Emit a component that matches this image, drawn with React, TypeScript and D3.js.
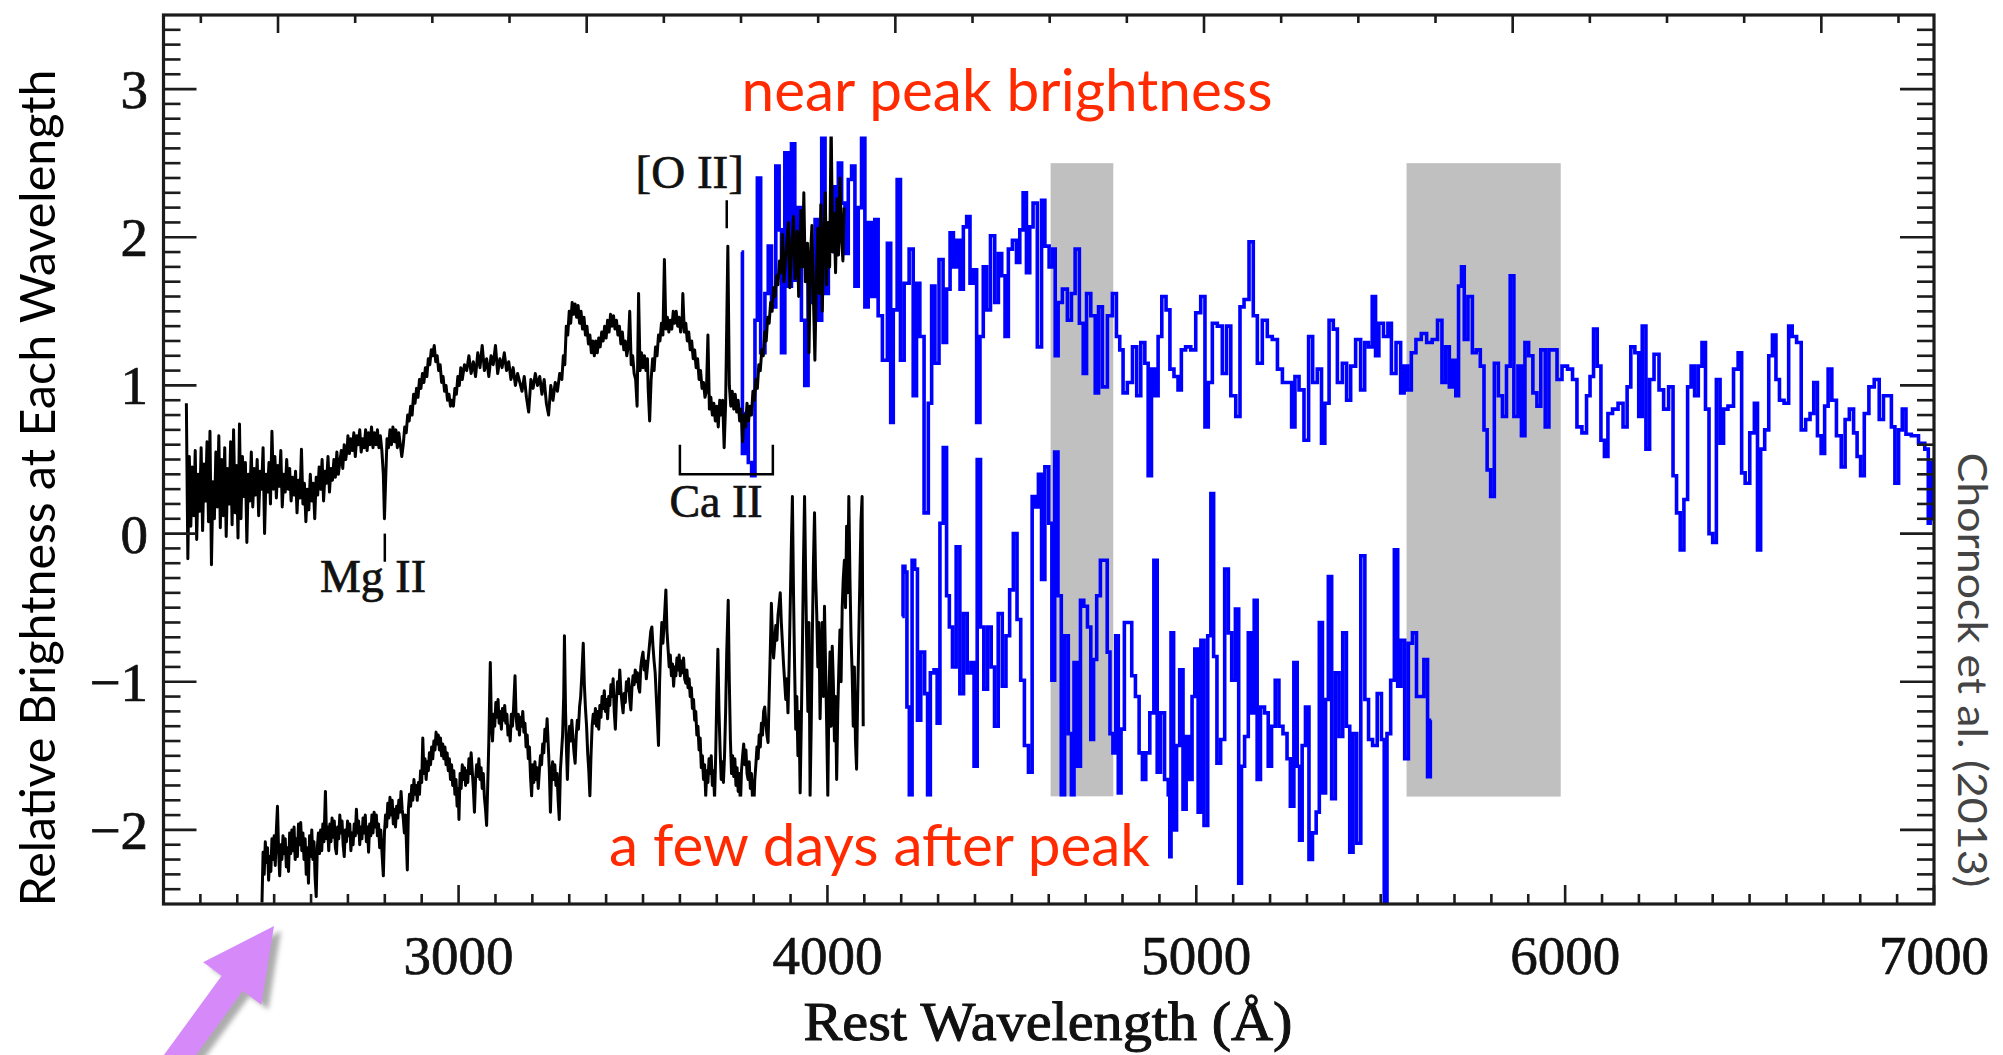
import React from "react";
import * as d3 from "d3";

// ---- axes ----
const X_DOMAIN = [2200, 7000];
const Y_DOMAIN = [-2.5, 3.5];
const X_MAJOR = [3000, 4000, 5000, 6000, 7000];
const Y_MAJOR = [-2, -1, 0, 1, 2, 3];
const Z_PLUS_ONE = 2.39; // observed / rest wavelength for the top axis
const OBS_MAJOR = [6000, 8000, 10000, 12000, 14000, 16000];

// ---- shaded telluric regions (rest Å) and their flux extent ----
const BANDS = [
  [4605, 4775],
  [5570, 5988],
];
const BAND_FLUX = [-1.775, 2.5];

// ---- line markers ----
const MG_II = 2800;
const O_II = 3727;
const CA_II = [3600, 3852];

// ---- spectrum near peak: UV (black) ----
const peakUV = [
  [2262, 0.88], [2266, -0.17], [2270, 0.52], [2274, 0.05], [2278, 0.45], [2282, 0.12], [2286, 0.56], [2290, -0.04],
  [2294, 0.4], [2298, 0.15], [2302, 0.58], [2306, 0.02], [2310, 0.47], [2314, 0.22], [2318, 0.62], [2322, 0.08],
  [2326, 0.69], [2330, -0.21], [2334, 0.35], [2338, 0.1], [2342, 0.55], [2346, 0.18], [2350, 0.66], [2354, 0.04],
  [2358, 0.5], [2362, 0.12], [2366, 0.58], [2370, -0.02], [2374, 0.44], [2378, 0.2], [2382, 0.62], [2386, 0.06],
  [2390, 0.7], [2394, 0.14], [2398, 0.46], [2402, -0.03], [2406, 0.74], [2410, 0.1], [2414, 0.52], [2418, 0.25],
  [2422, 0.48], [2426, -0.06], [2430, 0.4], [2434, 0.22], [2438, 0.55], [2442, 0.18], [2446, 0.44], [2450, 0.26],
  [2454, 0.5], [2458, 0.12], [2462, 0.42], [2466, 0.3], [2470, 0.58], [2474, 0.0], [2478, 0.4], [2482, 0.28],
  [2486, 0.48], [2490, 0.2], [2494, 0.69], [2498, 0.3], [2502, 0.52], [2506, 0.24], [2510, 0.46], [2514, 0.32],
  [2518, 0.56], [2522, 0.18], [2526, 0.4], [2530, 0.28], [2534, 0.5], [2538, 0.3], [2542, 0.44], [2546, 0.22],
  [2550, 0.38], [2554, 0.26], [2558, 0.42], [2562, 0.14], [2566, 0.36], [2570, 0.24], [2574, 0.57], [2578, 0.2],
  [2582, 0.34], [2586, 0.08], [2590, 0.3], [2594, 0.16], [2598, 0.4], [2602, 0.22], [2606, 0.34], [2610, 0.1],
  [2614, 0.38], [2618, 0.26], [2622, 0.45], [2626, 0.3], [2630, 0.5], [2634, 0.22], [2638, 0.42], [2642, 0.34],
  [2646, 0.52], [2650, 0.28], [2654, 0.44], [2658, 0.36], [2662, 0.5], [2666, 0.38], [2670, 0.55], [2674, 0.4],
  [2678, 0.48], [2682, 0.56], [2686, 0.44], [2690, 0.6], [2694, 0.5], [2698, 0.57], [2700, 0.66], [2704, 0.54],
  [2708, 0.64], [2712, 0.56], [2716, 0.68], [2720, 0.52], [2724, 0.66], [2728, 0.6], [2732, 0.7], [2736, 0.55],
  [2740, 0.64], [2744, 0.58], [2748, 0.7], [2752, 0.56], [2756, 0.68], [2760, 0.6], [2764, 0.72], [2768, 0.58],
  [2772, 0.68], [2776, 0.6], [2780, 0.7], [2784, 0.58], [2788, 0.66], [2792, 0.56], [2796, 0.4], [2799, 0.1],
  [2802, 0.34], [2806, 0.64], [2810, 0.58], [2814, 0.7], [2818, 0.6], [2822, 0.72], [2826, 0.62], [2830, 0.7],
  [2834, 0.58], [2838, 0.68], [2842, 0.6], [2846, 0.52], [2850, 0.6], [2854, 0.72], [2858, 0.68], [2862, 0.8],
  [2866, 0.76], [2870, 0.86], [2874, 0.8], [2878, 0.94], [2882, 0.88], [2886, 0.98], [2890, 0.92], [2894, 1.04],
  [2898, 0.98], [2902, 1.08], [2906, 1.02], [2910, 1.12], [2914, 1.06], [2918, 1.18], [2922, 1.14], [2926, 1.24],
  [2930, 1.2], [2934, 1.27], [2938, 1.16], [2942, 1.2], [2946, 1.1], [2950, 1.14], [2954, 1.02], [2958, 1.06],
  [2962, 0.96], [2966, 1.0], [2970, 0.9], [2974, 0.94], [2978, 0.86], [2982, 0.9], [2986, 0.86], [2990, 0.98],
  [2994, 0.94], [2998, 1.06], [3002, 1.0], [3006, 1.12], [3010, 1.04], [3016, 1.14], [3022, 1.1], [3028, 1.2],
  [3034, 1.08], [3040, 1.16], [3046, 1.06], [3052, 1.22], [3058, 1.12], [3064, 1.27], [3070, 1.1], [3076, 1.18],
  [3082, 1.06], [3088, 1.2], [3094, 1.14], [3100, 1.27], [3106, 1.08], [3112, 1.18], [3118, 1.12], [3124, 1.22],
  [3130, 1.1], [3136, 1.16], [3142, 1.04], [3148, 1.12], [3154, 1.0], [3160, 1.08], [3166, 1.02], [3172, 0.96],
  [3178, 1.06], [3184, 0.92], [3190, 0.82], [3196, 1.04], [3202, 0.98], [3208, 1.08], [3214, 1.0], [3220, 1.06],
  [3226, 0.94], [3232, 1.04], [3238, 0.88], [3244, 0.8], [3250, 1.0], [3256, 0.9], [3262, 1.02], [3268, 0.96],
  [3274, 1.08], [3280, 1.04], [3284, 1.2], [3288, 1.14], [3292, 1.4], [3296, 1.34], [3300, 1.5], [3304, 1.42],
  [3308, 1.56], [3312, 1.48], [3316, 1.55], [3320, 1.46], [3324, 1.54], [3328, 1.42], [3332, 1.5], [3336, 1.38],
  [3340, 1.46], [3344, 1.34], [3348, 1.4], [3352, 1.28], [3356, 1.34], [3360, 1.22], [3364, 1.3], [3368, 1.2],
  [3372, 1.3], [3376, 1.22], [3380, 1.32], [3384, 1.26], [3388, 1.36], [3392, 1.3], [3396, 1.4], [3400, 1.32],
  [3404, 1.44], [3408, 1.36], [3412, 1.48], [3416, 1.4], [3420, 1.47], [3424, 1.38], [3428, 1.44], [3432, 1.34],
  [3436, 1.4], [3440, 1.28], [3444, 1.36], [3448, 1.24], [3452, 1.3], [3456, 1.2], [3460, 1.26], [3464, 1.5],
  [3468, 1.14], [3472, 1.2], [3476, 1.08], [3480, 1.04], [3484, 0.86], [3488, 1.62], [3492, 1.1], [3496, 1.22],
  [3500, 1.12], [3504, 1.2], [3508, 1.1], [3512, 1.18], [3514, 0.98], [3518, 0.76], [3522, 1.04], [3526, 1.18],
  [3530, 1.1], [3534, 1.26], [3538, 1.2], [3542, 1.34], [3546, 1.3], [3550, 1.42], [3554, 1.34], [3558, 1.85],
  [3562, 1.38], [3566, 1.46], [3570, 1.36], [3574, 1.44], [3578, 1.38], [3582, 1.5], [3586, 1.42], [3590, 1.5],
  [3594, 1.4], [3598, 1.46], [3602, 1.36], [3606, 1.44], [3608, 1.62], [3612, 1.36], [3616, 1.42], [3620, 1.3],
  [3624, 1.36], [3628, 1.24], [3632, 1.3], [3636, 1.18], [3640, 1.24], [3644, 1.12], [3648, 1.18], [3652, 1.04],
  [3656, 1.1], [3660, 0.98], [3664, 1.02], [3668, 0.92], [3672, 0.96], [3676, 1.34], [3680, 0.84], [3684, 0.92],
  [3688, 0.8], [3692, 0.88], [3696, 0.76], [3700, 0.86], [3704, 0.72], [3708, 0.9], [3712, 0.8], [3716, 0.9],
  [3720, 0.58], [3724, 0.88], [3730, 1.94], [3734, 1.0], [3738, 0.86], [3742, 0.96], [3746, 0.84], [3750, 0.94],
  [3754, 0.82], [3758, 0.9], [3762, 0.76], [3766, 0.84], [3770, 0.62], [3774, 0.8], [3778, 0.72], [3782, 0.88],
  [3786, 0.76], [3790, 0.86], [3794, 0.8], [3798, 0.96], [3802, 0.9], [3806, 1.04], [3810, 0.98], [3814, 1.14],
  [3818, 1.1], [3822, 1.24], [3826, 1.2], [3830, 1.36], [3834, 1.3], [3838, 1.46], [3842, 1.42], [3846, 1.56],
  [3850, 1.5], [3854, 1.66], [3858, 1.6], [3862, 1.74], [3866, 1.68], [3870, 1.84], [3874, 1.76], [3878, 2.02],
  [3882, 1.7], [3888, 1.9], [3894, 2.1], [3898, 1.66], [3904, 1.98], [3908, 2.14], [3912, 1.72], [3918, 2.04],
  [3922, 1.6], [3928, 2.18], [3932, 1.8], [3936, 2.3], [3940, 1.7], [3946, 1.96], [3950, 1.22], [3954, 1.88],
  [3958, 2.08], [3962, 1.6], [3966, 1.17], [3970, 1.74], [3974, 2.06], [3978, 1.62], [3982, 2.22], [3986, 1.5],
  [3990, 1.98], [3994, 2.3], [3998, 1.68], [4002, 2.1], [4006, 1.8], [4010, 2.8], [4014, 1.9], [4018, 2.16],
  [4022, 1.76], [4026, 2.26], [4030, 1.88], [4034, 2.4], [4038, 2.0], [4042, 1.84], [4045, 2.2],
];

// ---- spectrum near peak: optical (blue, binned) ----
const peakOptical = [
  [3767, 1.9], [3772, 0.54], [3781, 0.81], [3790, 0.48], [3799, 0.39], [3808, 1.44], [3812, 2.4], [3826, 1.22],
  [3835, 1.62], [3844, 1.94], [3853, 1.53], [3867, 2.48], [3871, 2.05], [3880, 1.22], [3889, 2.57], [3898, 1.67],
  [3907, 2.63], [3916, 1.71], [3925, 2.2], [3934, 1.44], [3943, 1.0], [3952, 1.89], [3962, 1.56], [3971, 2.12],
  [3980, 1.44], [3989, 2.75], [3998, 1.62], [4007, 2.05], [4016, 2.34], [4025, 2.01], [4034, 2.5], [4043, 2.23],
  [4052, 1.89], [4061, 2.39], [4070, 2.48], [4079, 1.67], [4088, 2.2], [4097, 2.75], [4106, 1.53], [4115, 2.1],
  [4124, 1.6], [4133, 2.12], [4142, 1.47], [4156, 1.17], [4169, 1.96], [4174, 0.75], [4183, 1.51], [4195, 2.39],
  [4201, 1.17], [4215, 1.69], [4228, 1.92], [4237, 0.93], [4246, 1.69], [4255, 1.33], [4269, 0.14], [4278, 0.88],
  [4287, 1.67], [4296, 1.15], [4309, 1.85], [4318, 1.29], [4328, 1.65], [4337, 2.03], [4346, 1.8], [4355, 1.98],
  [4364, 1.65], [4373, 2.07], [4382, 2.14], [4391, 1.69], [4400, 1.78], [4409, 0.75], [4418, 1.33], [4427, 1.8],
  [4436, 1.51], [4448, 2.01], [4459, 1.56], [4468, 1.89], [4477, 1.74], [4486, 1.33], [4495, 1.92], [4508, 1.98],
  [4517, 1.83], [4526, 2.05], [4535, 2.3], [4544, 1.76], [4553, 2.07], [4562, 2.23], [4576, 1.26], [4585, 2.25],
  [4594, 1.94], [4608, 1.8], [4614, 1.92], [4621, 1.2], [4630, 1.56], [4644, 1.65], [4657, 1.44], [4666, 1.62],
  [4677, 1.92], [4689, 1.42], [4698, 1.08], [4707, 1.62], [4721, 1.47], [4731, 0.95], [4739, 1.53], [4752, 0.99],
  [4766, 1.47], [4779, 1.62], [4788, 1.33], [4797, 1.24], [4806, 0.95], [4820, 1.02], [4834, 1.26], [4843, 0.93],
  [4856, 1.29], [4865, 1.15], [4874, 0.39], [4883, 1.11], [4892, 0.93], [4901, 1.33], [4912, 1.6], [4924, 1.51],
  [4933, 1.11], [4946, 1.06], [4955, 0.97], [4964, 1.24], [4978, 1.26], [4992, 1.24], [5005, 1.49], [5019, 1.6],
  [5028, 0.72], [5037, 1.02], [5050, 1.42], [5064, 1.4], [5077, 1.08], [5087, 1.4], [5100, 0.93], [5114, 0.79],
  [5123, 1.53], [5136, 1.58], [5150, 1.97], [5159, 1.47], [5172, 1.15], [5186, 1.44], [5199, 1.33], [5213, 1.31],
  [5227, 1.11], [5240, 1.02], [5254, 1.02], [5263, 0.72], [5272, 1.06], [5285, 0.97], [5299, 0.63], [5310, 1.33],
  [5321, 1.02], [5335, 1.11], [5344, 0.61], [5353, 0.88], [5367, 1.44], [5376, 1.38], [5389, 1.02], [5403, 1.15],
  [5412, 0.9], [5425, 1.13], [5439, 1.31], [5452, 0.97], [5461, 1.29], [5472, 1.26], [5482, 1.6], [5490, 1.2],
  [5500, 1.42], [5515, 1.33], [5524, 1.42], [5534, 1.08], [5549, 1.29], [5559, 0.95], [5568, 1.13], [5578, 0.97],
  [5588, 1.22], [5603, 1.31], [5617, 1.35], [5632, 1.29], [5647, 1.31], [5661, 1.44], [5671, 1.02], [5681, 1.26],
  [5691, 0.99], [5700, 1.17], [5707, 0.93], [5715, 1.67], [5723, 1.8], [5730, 1.31], [5743, 1.6], [5754, 1.22],
  [5764, 1.24], [5776, 1.13], [5784, 0.7], [5793, 0.43], [5803, 0.25], [5813, 1.15], [5825, 0.93], [5835, 0.79],
  [5847, 1.13], [5855, 1.74], [5867, 0.79], [5877, 1.13], [5886, 0.66], [5896, 1.29], [5906, 1.2], [5919, 0.95],
  [5928, 0.86], [5940, 1.24], [5952, 0.72], [5960, 1.24], [5972, 1.24], [5984, 1.04], [5999, 1.13], [6014, 1.11],
  [6026, 1.04], [6038, 0.72], [6053, 0.68], [6063, 0.93], [6072, 1.06], [6082, 1.38], [6092, 1.13], [6102, 0.63],
  [6111, 0.52], [6121, 0.81], [6136, 0.84], [6151, 0.88], [6163, 0.72], [6173, 0.99], [6183, 1.26], [6195, 1.22],
  [6204, 0.79], [6214, 1.4], [6224, 0.57], [6234, 1.04], [6248, 1.21], [6261, 0.97], [6273, 0.84], [6288, 0.99],
  [6297, 0.39], [6307, 0.14], [6317, -0.11], [6327, 0.23], [6337, 0.99], [6346, 1.13], [6356, 0.93], [6366, 1.13],
  [6376, 1.29], [6385, 0.84], [6395, 0.0], [6405, -0.06], [6415, 1.04], [6425, 0.61], [6434, 0.84], [6449, 0.86],
  [6464, 1.11], [6474, 1.22], [6483, 0.41], [6493, 0.34], [6508, 0.68], [6518, 0.88], [6525, -0.11], [6535, 0.57],
  [6547, 0.7], [6557, 1.2], [6567, 1.34], [6576, 1.04], [6586, 0.9], [6601, 0.88], [6611, 1.4], [6620, 1.33],
  [6635, 1.29], [6645, 0.7], [6659, 0.77], [6669, 0.81], [6679, 1.02], [6689, 0.66], [6699, 0.54], [6708, 0.86],
  [6718, 1.11], [6728, 0.9], [6743, 0.66], [6754, 0.45], [6764, 0.77], [6777, 0.84], [6787, 0.68], [6796, 0.52],
  [6806, 0.39], [6816, 0.81], [6831, 0.99], [6845, 1.04], [6858, 0.77], [6868, 0.93], [6880, 0.93], [6889, 0.72],
  [6899, 0.34], [6909, 0.7], [6919, 0.84], [6929, 0.67], [6948, 0.66], [6968, 0.61], [6982, 0.57], [6987, 0.07],
  [6992, 0.48], [7000, 0.1],
];

// ---- spectrum a few days after peak: UV (black) ----
const laterUV = [
  [2467, -2.49], [2470, -2.15], [2473, -2.3], [2476, -2.08], [2479, -2.22], [2482, -2.12], [2485, -2.34], [2488, -2.18],
  [2491, -2.28], [2494, -2.06], [2497, -2.2], [2500, -2.04], [2503, -2.24], [2506, -2.0], [2509, -1.84], [2512, -2.14],
  [2515, -2.31], [2518, -2.1], [2521, -2.2], [2524, -2.04], [2527, -2.16], [2530, -2.06], [2533, -2.25], [2536, -2.12],
  [2539, -2.28], [2542, -2.02], [2545, -2.16], [2548, -2.0], [2551, -2.14], [2554, -1.98], [2557, -2.2], [2560, -2.06],
  [2563, -2.18], [2566, -1.96], [2569, -2.1], [2572, -1.95], [2575, -2.14], [2578, -2.02], [2581, -2.2], [2584, -2.06],
  [2587, -2.3], [2590, -2.12], [2593, -2.36], [2596, -2.04], [2599, -2.18], [2602, -2.0], [2605, -2.2], [2608, -2.08],
  [2611, -2.32], [2614, -2.45], [2617, -2.12], [2620, -2.02], [2623, -2.16], [2626, -2.0], [2629, -2.14], [2632, -1.96],
  [2635, -2.08], [2639, -1.74], [2642, -2.06], [2645, -1.98], [2648, -2.14], [2651, -1.96], [2654, -2.08], [2657, -1.92],
  [2660, -2.05], [2663, -1.94], [2666, -2.12], [2669, -2.16], [2672, -1.98], [2675, -2.06], [2678, -1.9], [2681, -2.02],
  [2684, -1.94], [2687, -2.1], [2690, -2.18], [2693, -2.0], [2696, -2.08], [2699, -1.94], [2702, -2.04], [2705, -1.96],
  [2708, -2.14], [2711, -2.02], [2714, -2.1], [2717, -1.96], [2720, -2.04], [2723, -1.86], [2726, -2.02], [2729, -1.94],
  [2732, -2.1], [2735, -1.98], [2738, -2.06], [2741, -1.92], [2744, -2.02], [2747, -1.9], [2750, -2.08], [2753, -1.98],
  [2756, -2.15], [2759, -1.96], [2762, -2.04], [2765, -1.9], [2768, -2.02], [2771, -1.88], [2774, -1.98], [2777, -1.9],
  [2780, -2.04], [2783, -1.96], [2786, -2.12], [2789, -2.0], [2792, -2.14], [2796, -2.31], [2799, -2.02], [2802, -1.9],
  [2805, -1.98], [2808, -1.82], [2811, -1.92], [2814, -1.78], [2817, -1.9], [2820, -1.8], [2823, -1.96], [2826, -1.86],
  [2829, -1.98], [2832, -1.84], [2835, -1.92], [2838, -1.8], [2841, -1.88], [2844, -1.74], [2847, -1.86], [2850, -1.92],
  [2853, -2.02], [2856, -1.9], [2859, -2.12], [2861, -2.27], [2864, -1.86], [2867, -1.76], [2870, -1.84], [2873, -1.7],
  [2876, -1.8], [2879, -1.66], [2882, -1.76], [2885, -1.7], [2888, -1.8], [2891, -1.68], [2894, -1.76], [2897, -1.6],
  [2900, -1.68], [2903, -1.38], [2906, -1.62], [2909, -1.52], [2912, -1.66], [2915, -1.54], [2918, -1.6], [2921, -1.48],
  [2924, -1.56], [2927, -1.44], [2930, -1.52], [2933, -1.4], [2936, -1.46], [2939, -1.34], [2942, -1.42], [2945, -1.36],
  [2948, -1.46], [2951, -1.38], [2954, -1.5], [2957, -1.42], [2960, -1.52], [2963, -1.44], [2966, -1.56], [2969, -1.48],
  [2972, -1.6], [2975, -1.52], [2978, -1.66], [2981, -1.56], [2984, -1.7], [2987, -1.6], [2990, -1.76], [2993, -1.66],
  [2996, -1.84], [2999, -1.72], [3001, -1.93], [3004, -1.62], [3007, -1.72], [3010, -1.56], [3013, -1.66], [3016, -1.58],
  [3019, -1.7], [3022, -1.6], [3025, -1.68], [3028, -1.52], [3031, -1.62], [3034, -1.48], [3037, -1.6], [3040, -1.72],
  [3043, -1.88], [3046, -1.66], [3049, -1.56], [3052, -1.64], [3055, -1.52], [3058, -1.66], [3061, -1.58], [3064, -1.72],
  [3067, -1.62], [3070, -1.78], [3073, -1.86], [3076, -1.97], [3079, -1.7], [3082, -1.4], [3086, -0.87], [3089, -1.3],
  [3092, -1.4], [3095, -1.22], [3098, -1.3], [3101, -1.14], [3104, -1.24], [3107, -1.12], [3110, -1.28], [3113, -1.2],
  [3116, -1.32], [3119, -1.18], [3122, -1.26], [3125, -1.16], [3128, -1.28], [3131, -1.22], [3134, -1.36], [3137, -1.3],
  [3140, -1.4], [3143, -1.22], [3146, -1.3], [3149, -1.18], [3153, -0.96], [3156, -1.24], [3159, -1.32], [3162, -1.22],
  [3165, -1.36], [3168, -1.24], [3171, -1.3], [3174, -1.2], [3177, -1.34], [3180, -1.28], [3183, -1.44], [3186, -1.36],
  [3189, -1.52], [3192, -1.44], [3195, -1.64], [3198, -1.77], [3201, -1.56], [3204, -1.68], [3207, -1.54], [3210, -1.66],
  [3213, -1.58], [3216, -1.72], [3219, -1.6], [3222, -1.5], [3225, -1.56], [3228, -1.42], [3231, -1.48], [3234, -1.32],
  [3237, -1.4], [3240, -1.25], [3243, -1.42], [3246, -1.6], [3249, -1.88], [3252, -1.62], [3255, -1.54], [3258, -1.66],
  [3261, -1.56], [3264, -1.7], [3267, -1.62], [3270, -1.8], [3273, -1.93], [3276, -1.6], [3279, -1.48], [3282, -1.36],
  [3285, -1.1], [3287, -0.69], [3290, -1.2], [3293, -1.5], [3295, -1.66], [3298, -1.42], [3301, -1.3], [3304, -1.4],
  [3307, -1.26], [3310, -1.38], [3313, -1.48], [3316, -1.55], [3319, -1.36], [3322, -1.26], [3325, -1.32], [3328, -1.17],
  [3331, -1.1], [3334, -0.96], [3338, -0.74], [3341, -1.02], [3344, -1.18], [3347, -1.3], [3350, -1.48], [3353, -1.6],
  [3356, -1.77], [3359, -1.5], [3362, -1.3], [3365, -1.22], [3368, -1.28], [3371, -1.18], [3374, -1.3], [3377, -1.2],
  [3380, -1.32], [3383, -1.16], [3386, -1.24], [3389, -1.1], [3392, -1.18], [3395, -1.06], [3398, -1.2], [3401, -1.12],
  [3404, -1.25], [3407, -1.1], [3410, -1.16], [3413, -1.02], [3416, -1.1], [3419, -0.98], [3422, -1.2], [3425, -1.32],
  [3428, -1.12], [3431, -1.0], [3434, -1.08], [3437, -0.92], [3440, -1.06], [3443, -1.14], [3446, -1.21], [3449, -1.08],
  [3452, -1.14], [3455, -1.0], [3458, -1.06], [3461, -0.98], [3464, -1.12], [3467, -1.19], [3470, -1.04], [3473, -0.96],
  [3476, -1.02], [3479, -0.92], [3482, -1.0], [3485, -0.94], [3488, -1.04], [3491, -1.07], [3494, -0.9], [3497, -0.84],
  [3500, -0.8], [3503, -0.92], [3506, -0.86], [3509, -0.98], [3512, -0.9], [3515, -0.82], [3518, -0.74], [3521, -0.66],
  [3524, -0.63], [3527, -0.76], [3530, -0.86], [3533, -0.94], [3536, -1.1], [3539, -1.26], [3542, -1.43], [3545, -1.0],
  [3548, -0.76], [3551, -0.6], [3554, -0.74], [3557, -0.62], [3560, -0.48], [3562, -0.38], [3565, -0.66], [3568, -0.78],
  [3571, -0.9], [3574, -0.82], [3577, -0.96], [3580, -0.88], [3583, -1.03], [3586, -0.9], [3589, -0.96], [3592, -0.84],
  [3595, -0.92], [3598, -0.82], [3601, -0.96], [3604, -0.86], [3607, -0.94], [3610, -0.84], [3613, -0.98], [3616, -1.01],
  [3619, -0.92], [3622, -1.04], [3625, -0.98], [3628, -1.1], [3631, -1.04], [3634, -1.18], [3637, -1.12], [3640, -1.26],
  [3643, -1.2], [3646, -1.36], [3649, -1.3], [3652, -1.46], [3655, -1.38], [3658, -1.58], [3661, -1.5], [3664, -1.66],
  [3667, -1.56], [3670, -1.77], [3673, -1.6], [3676, -1.68], [3679, -1.52], [3682, -1.62], [3685, -1.5], [3688, -1.7],
  [3691, -1.6], [3694, -1.79], [3697, -1.5], [3700, -1.1], [3703, -0.78], [3706, -1.2], [3709, -1.46], [3712, -1.66],
  [3715, -1.54], [3718, -1.68], [3721, -1.5], [3724, -1.2], [3727, -0.8], [3731, -0.45], [3734, -1.0], [3737, -1.4],
  [3740, -1.62], [3743, -1.5], [3746, -1.64], [3749, -1.52], [3752, -1.7], [3755, -1.58], [3758, -1.74], [3761, -1.62],
  [3764, -1.84], [3767, -1.6], [3770, -1.5], [3773, -1.42], [3776, -1.56], [3779, -1.46], [3782, -1.62], [3785, -1.66],
  [3788, -1.54], [3791, -1.72], [3794, -1.62], [3797, -1.8], [3800, -1.88], [3803, -1.66], [3806, -1.56], [3809, -1.44],
  [3812, -1.52], [3815, -1.36], [3818, -1.44], [3821, -1.28], [3824, -1.36], [3827, -1.2], [3830, -1.17], [3833, -1.28],
  [3836, -1.36], [3839, -1.41], [3842, -1.1], [3845, -0.8], [3848, -0.47], [3851, -0.7], [3854, -0.84], [3857, -0.74],
  [3860, -0.62], [3863, -0.72], [3866, -0.55], [3869, -0.48], [3872, -0.4], [3875, -0.6], [3878, -0.74], [3881, -0.88],
  [3884, -1.0], [3887, -1.12], [3890, -0.98], [3893, -1.21], [3896, -0.9], [3899, -0.5], [3902, -0.1], [3905, 0.25],
  [3908, -0.4], [3911, -0.9], [3914, -1.32], [3917, -1.1], [3920, -1.5], [3923, -1.2], [3926, -1.75], [3929, -1.3],
  [3932, -0.8], [3935, -0.2], [3938, 0.25], [3941, -0.3], [3944, -0.8], [3947, -1.2], [3950, -0.6], [3953, -1.77],
  [3956, -1.3], [3959, -0.7], [3962, -0.2], [3965, 0.14], [3968, -0.3], [3971, -0.54], [3974, -0.9], [3977, -0.6],
  [3980, -1.25], [3983, -0.9], [3986, -0.6], [3989, -1.1], [3992, -0.49], [3995, -0.9], [3998, -1.3], [4001, -1.77],
  [4004, -1.1], [4007, -0.8], [4010, -1.3], [4013, -0.76], [4016, -1.0], [4019, -1.4], [4022, -1.1], [4025, -1.66],
  [4028, -1.2], [4031, -0.9], [4034, -0.65], [4037, -1.0], [4040, -0.5], [4043, -0.3], [4046, -0.18], [4049, -0.5],
  [4052, 0.05], [4055, -0.4], [4058, 0.25], [4061, -0.3], [4064, -0.7], [4067, -0.94], [4070, -1.3], [4073, -0.9],
  [4076, -1.4], [4079, -1.59], [4082, -1.1], [4085, -0.7], [4088, -0.3], [4091, 0.09], [4094, 0.25], [4097, -1.3],
];

// ---- spectrum a few days after peak: optical (blue, binned) ----
const laterOptical = [
  [4203, -0.56], [4207, -0.22], [4213, -0.26], [4218, -1.17], [4226, -1.77], [4233, -0.18], [4240, -0.24], [4248, -1.26],
  [4258, -0.8], [4269, -1.08], [4274, -1.77], [4284, -0.94], [4294, -0.92], [4301, -1.28], [4309, 0.07], [4319, 0.58],
  [4327, -0.42], [4334, -0.63], [4344, -0.9], [4354, -0.09], [4364, -1.08], [4374, -0.54], [4384, -0.94], [4394, -0.87],
  [4401, -1.57], [4411, 0.5], [4419, -0.63], [4429, -1.05], [4439, -0.63], [4449, -0.9], [4457, -1.3], [4469, -0.54],
  [4479, -1.03], [4489, -0.69], [4499, -0.38], [4509, 0.0], [4519, -0.58], [4529, -0.99], [4539, -1.43], [4551, -1.61],
  [4559, 0.25], [4567, 0.18], [4577, 0.4], [4584, -0.31], [4595, 0.45], [4605, 0.07], [4612, -0.99], [4620, 0.55],
  [4630, -0.42], [4638, -1.77], [4648, -0.69], [4658, -1.35], [4665, -1.77], [4672, -0.87], [4682, -1.57], [4690, -0.45],
  [4700, -0.49], [4710, -0.63], [4718, -1.39], [4725, -0.85], [4735, -0.42], [4745, -0.18], [4755, -0.18], [4762, -0.8],
  [4770, -1.35], [4778, -1.48], [4785, -0.69], [4792, -1.75], [4800, -1.32], [4810, -0.6], [4820, -0.6], [4830, -0.96],
  [4840, -1.1], [4850, -1.48], [4858, -1.66], [4868, -1.48], [4880, -1.21], [4890, -0.18], [4898, -1.61], [4908, -1.21],
  [4920, -1.66], [4928, -2.18], [4935, -0.67], [4942, -2.0], [4951, -1.43], [4959, -0.92], [4969, -1.86], [4976, -1.37],
  [4986, -1.66], [4991, -1.1], [5001, -0.78], [5009, -1.88], [5016, -0.72], [5026, -1.97], [5036, -0.69], [5043, 0.27],
  [5051, -0.83], [5061, -1.55], [5071, -1.39], [5083, -0.24], [5091, -0.67], [5101, -0.99], [5111, -0.51], [5119, -2.36],
  [5126, -1.57], [5136, -1.37], [5146, -0.67], [5153, -1.21], [5161, -0.45], [5169, -1.66], [5179, -1.17], [5191, -1.21],
  [5199, -1.57], [5209, -1.3], [5219, -0.99], [5229, -1.3], [5241, -1.35], [5251, -1.52], [5259, -1.84], [5270, -0.87],
  [5277, -1.57], [5283, -2.07], [5291, -1.43], [5301, -1.17], [5310, -2.2], [5320, -2.02], [5330, -1.88], [5337, -0.6],
  [5347, -1.75], [5354, -1.12], [5362, -0.29], [5372, -1.79], [5382, -0.94], [5392, -1.37], [5402, -0.67], [5412, -1.3],
  [5420, -2.15], [5430, -1.35], [5440, -2.09], [5452, -0.15], [5462, -1.12], [5472, -1.39], [5484, -1.43], [5497, -1.08],
  [5507, -1.39], [5512, -2.52], [5522, -1.35], [5532, -0.99], [5542, -0.11], [5550, -1.03], [5560, -0.72], [5570, -1.52],
  [5580, -0.74], [5592, -0.67], [5602, -1.1], [5612, -1.1], [5622, -0.85], [5632, -1.64], [5637, -1.26],
];

// ---- figure geometry ----
const W = 2003;
const H = 1055;
const PLOT = { left: 163.5, right: 1934, top: 15, bottom: 904 };
const SERIF = "'Liberation Serif', 'Times New Roman', serif";
const SANS = "Lato, 'Open Sans', sans-serif";
const RED = "#ff2a00";
const BLUE = "#0000ff";
const INK = "#111";

export default function App() {
  const x = d3.scaleLinear().domain(X_DOMAIN).range([PLOT.left, PLOT.right]);
  const y = d3.scaleLinear().domain(Y_DOMAIN).range([PLOT.bottom, PLOT.top]);
  const obsX = d3
    .scaleLinear()
    .domain([X_DOMAIN[0] * Z_PLUS_ONE, X_DOMAIN[1] * Z_PLUS_ONE])
    .range([PLOT.left, PLOT.right]);

  const smooth = d3.line().x((d) => x(d[0])).y((d) => y(d[1]));
  const binned = d3
    .line()
    .x((d) => x(d[0]))
    .y((d) => y(d[1]))
    .curve(d3.curveStep);

  const xMinor = d3.range(2300, 7000, 100).filter((v) => v % 1000 !== 0);
  const yMinor = d3.range(-24, 35).map((v) => v / 10).filter((v) => Math.abs(v - Math.round(v)) > 1e-6);
  const obsMinor = d3
    .range(5500, 16800, 500)
    .filter((v) => v % 2000 !== 0 && v <= X_DOMAIN[1] * Z_PLUS_ONE);

  const fmtY = (v) => (v < 0 ? `\u2212${-v}` : `${v}`);

  // pointer arrow (screen geometry)
  const tip = [274, 926];
  const dir = [0.589, -0.808];
  const perp = [-dir[1], dir[0]];
  const headLen = 71;
  const headHalf = 36;
  const shaftHalf = 13;
  const tailLen = 175;
  const P = (t, s) => [tip[0] - dir[0] * t + perp[0] * s, tip[1] - dir[1] * t + perp[1] * s];
  const arrowPts = [
    P(0, 0),
    P(headLen, headHalf),
    P(headLen, shaftHalf),
    P(tailLen, shaftHalf),
    P(tailLen, -shaftHalf),
    P(headLen, -shaftHalf),
    P(headLen, -headHalf),
  ]
    .map((p) => p.join(","))
    .join(" ");

  const stroke = "#1c1c1c";
  const serifText = { fontFamily: SERIF, fill: INK, stroke: INK, strokeWidth: 0.7 };

  return (
    <svg
      width={W}
      height={H}
      viewBox={`0 0 ${W} ${H}`}
      style={{ position: "absolute", left: 0, top: 0, display: "block", background: "#fff" }}
    >
      <defs>
        <clipPath id="plotArea">
          <rect x={PLOT.left} y={PLOT.top} width={PLOT.right - PLOT.left} height={PLOT.bottom - PLOT.top} />
        </clipPath>
        <filter id="arrowShadow" x="-20%" y="-20%" width="140%" height="140%">
          <feGaussianBlur stdDeviation="2.5" />
        </filter>
      </defs>
      <rect x={0} y={0} width={W} height={H} fill="#fff" />

      <g clipPath="url(#plotArea)">
        {BANDS.map(([a, b], i) => (
          <rect
            key={i}
            x={x(a)}
            y={y(BAND_FLUX[1])}
            width={x(b) - x(a)}
            height={y(BAND_FLUX[0]) - y(BAND_FLUX[1])}
            fill="#c0c0c0"
          />
        ))}

        <path d={binned(peakOptical)} fill="none" stroke={BLUE} strokeWidth={3.6} />
        <path d={smooth(peakUV)} fill="none" stroke="#000" strokeWidth={3} strokeLinejoin="round" />
        <path d={binned(laterOptical)} fill="none" stroke={BLUE} strokeWidth={3.6} />
        <path d={smooth(laterUV)} fill="none" stroke="#000" strokeWidth={3} strokeLinejoin="round" />

        {/* label backings */}
        <rect x={735} y={PLOT.top} width={545} height={y(2.68) - PLOT.top} fill="#fff" />
        <rect x={591} y={y(-1.775)} width={577} height={PLOT.bottom - 11 - y(-1.775)} fill="#fff" />

        {/* line identifications */}
        <line x1={x(O_II)} x2={x(O_II)} y1={y(2.25)} y2={y(2.06)} stroke="#000" strokeWidth={2.5} />
        <line x1={x(MG_II)} x2={x(MG_II)} y1={y(0.0)} y2={y(-0.19)} stroke="#000" strokeWidth={2.5} />
        <path
          d={`M${x(CA_II[0])},${y(0.6)} V${y(0.4)} H${x(CA_II[1])} V${y(0.6)}`}
          fill="none"
          stroke="#000"
          strokeWidth={2.5}
        />
      </g>

      <text x={x(O_II) - 37} y={188} fontSize={47} textAnchor="middle" {...serifText}>
        [O II]
      </text>
      <text x={716} y={517} fontSize={46} textAnchor="middle" {...serifText}>
        Ca II
      </text>
      <text x={373} y={592} fontSize={46} textAnchor="middle" {...serifText}>
        Mg II
      </text>

      {/* ticks */}
      <g stroke={stroke} strokeWidth={2.6}>
        {X_MAJOR.map((v) => (
          <line key={`xb${v}`} x1={x(v)} x2={x(v)} y1={PLOT.bottom} y2={PLOT.bottom - 19} />
        ))}
        {xMinor.map((v) => (
          <line key={`xm${v}`} x1={x(v)} x2={x(v)} y1={PLOT.bottom} y2={PLOT.bottom - 10} />
        ))}
        {OBS_MAJOR.map((v) => (
          <line key={`ot${v}`} x1={obsX(v)} x2={obsX(v)} y1={PLOT.top} y2={PLOT.top + 18} />
        ))}
        {obsMinor.map((v) => (
          <line key={`om${v}`} x1={obsX(v)} x2={obsX(v)} y1={PLOT.top} y2={PLOT.top + 8} />
        ))}
        {Y_MAJOR.map((v) => (
          <g key={`y${v}`}>
            <line x1={PLOT.left} x2={PLOT.left + 33} y1={y(v)} y2={y(v)} />
            <line x1={PLOT.right} x2={PLOT.right - 34} y1={y(v)} y2={y(v)} />
          </g>
        ))}
        {yMinor.map((v) => (
          <g key={`ym${v}`}>
            <line x1={PLOT.left} x2={PLOT.left + 17} y1={y(v)} y2={y(v)} />
            <line x1={PLOT.right} x2={PLOT.right - 17} y1={y(v)} y2={y(v)} />
          </g>
        ))}
      </g>
      <rect
        x={PLOT.left}
        y={PLOT.top}
        width={PLOT.right - PLOT.left}
        height={PLOT.bottom - PLOT.top}
        fill="none"
        stroke={stroke}
        strokeWidth={3.2}
      />

      {/* tick labels */}
      {X_MAJOR.map((v) => (
        <text key={`xl${v}`} x={x(v)} y={974} fontSize={55} textAnchor="middle" {...serifText}>
          {v}
        </text>
      ))}
      {Y_MAJOR.map((v) => (
        <text key={`yl${v}`} x={148} y={y(v) + 19} fontSize={55} textAnchor="end" {...serifText}>
          {fmtY(v)}
        </text>
      ))}

      {/* axis titles */}
      <text
        x={1048}
        y={1040}
        fontSize={54}
        textAnchor="middle"
        textLength={489}
        lengthAdjust="spacingAndGlyphs"
        {...serifText}
        strokeWidth={1}
      >
        Rest Wavelength (Å)
      </text>
      <text
        transform={`translate(55,488) rotate(-90)`}
        fontFamily={SANS}
        fontSize={48}
        textAnchor="middle"
        fill="#000"
        textLength={837}
        lengthAdjust="spacingAndGlyphs"
      >
        Relative Brightness at Each Wavelength
      </text>
      <text
        transform={`translate(1958,670) rotate(90)`}
        fontFamily={SANS}
        fontSize={41}
        textAnchor="middle"
        fill="#444"
        textLength={435}
        lengthAdjust="spacingAndGlyphs"
      >
        Chornock et al. (2013)
      </text>

      {/* epoch labels */}
      <text
        x={1007}
        y={111}
        fontFamily={SANS}
        fontSize={59}
        textAnchor="middle"
        fill={RED}
        textLength={531}
        lengthAdjust="spacingAndGlyphs"
      >
        near peak brightness
      </text>
      <text
        x={879.5}
        y={866}
        fontFamily={SANS}
        fontSize={58}
        textAnchor="middle"
        fill={RED}
        textLength={541}
        lengthAdjust="spacingAndGlyphs"
      >
        a few days after peak
      </text>

      {/* pointer arrow */}
      <polygon points={arrowPts} fill="#8a8a8a" opacity={0.7} transform="translate(7,5)" filter="url(#arrowShadow)" />
      <polygon points={arrowPts} fill="#d68af9" />
    </svg>
  );
}
